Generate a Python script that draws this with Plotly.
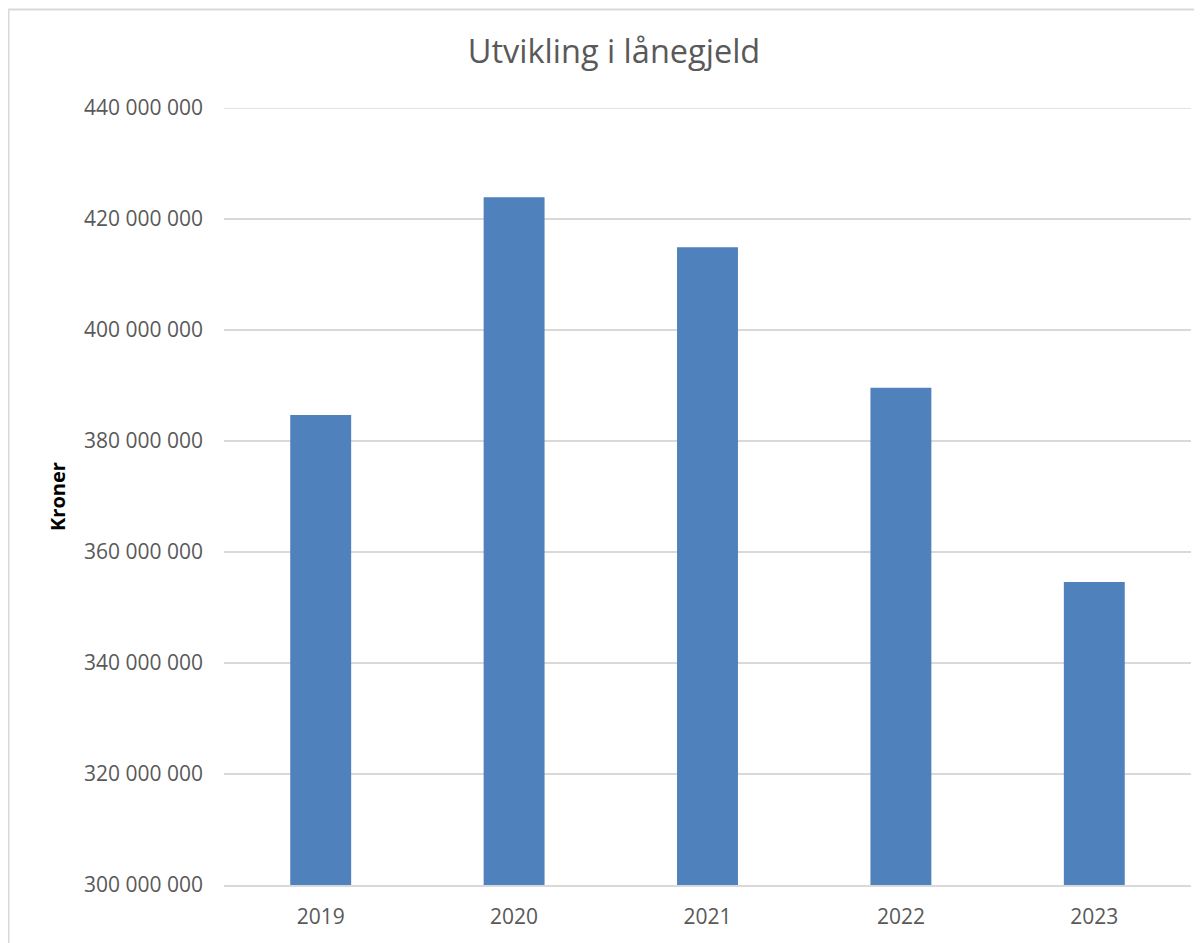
import plotly.graph_objects as go

years = ["2019", "2020", "2021", "2022", "2023"]
debt = [384_700_000, 423_900_000, 414_900_000, 389_600_000, 354_600_000]
y_min, y_max, y_step = 300_000_000, 440_000_000, 20_000_000

W, H = 1202, 943
OFF = 8  # page body offset
L, R, T, B = 224 - OFF, W - (1191 - OFF), 108 - OFF, H - (885 - OFF)
pw, ph = W - L - R, H - T - B

fig = go.Figure(go.Bar(x=years, y=debt, marker=dict(color="#4f81bd", line=dict(width=0))))

def px2paper_x(px):
    return (px - OFF - L) / pw

def px2paper_y(py):
    return (H - B - (py - OFF)) / ph

fig.add_shape(type="rect", xref="paper", yref="paper",
              x0=px2paper_x(8.5), x1=px2paper_x(1260),
              y0=px2paper_y(1000), y1=px2paper_y(9.5),
              line=dict(color="#d9d9d9", width=2), fillcolor="rgba(0,0,0,0)", layer="below")

# top gridline (range boundary)
fig.add_shape(type="line", xref="paper", yref="y", x0=0, x1=1, y0=y_max, y1=y_max,
              line=dict(color="#d9d9d9", width=1.5), layer="below")

fig.update_layout(
    width=W, height=H,
    margin=dict(l=L, r=R, t=T, b=B),
    paper_bgcolor="white", plot_bgcolor="white",
    separators=", ",
    bargap=0.685,
    showlegend=False,
    font=dict(family="Open Sans", color="#595959", size=21),
    title=dict(text="Utvikling i lånegjeld", x=(614 - OFF) / W, xanchor="center",
               y=1 - (52 - OFF) / H, yanchor="middle", xref="container", yref="container",
               font=dict(family="Open Sans", size=32.5, color="#595959")),
    xaxis=dict(showgrid=False, showline=True, linecolor="#d9d9d9", linewidth=1.5,
               ticks="", ticklabelstandoff=12, tickfont=dict(size=21, color="#595959")),
    yaxis=dict(range=[y_min, y_max], dtick=y_step, tickformat=",d",
               showgrid=True, gridcolor="#d9d9d9", gridwidth=1.5, zeroline=False,
               showline=False, ticks="", ticklabelstandoff=20,
               tickfont=dict(size=21, color="#595959"),
               title=dict(text="<b>Kroner</b>", standoff=13,
                          font=dict(family="Open Sans", size=20, color="#000000"))),
)

fig.write_html("out.html")
